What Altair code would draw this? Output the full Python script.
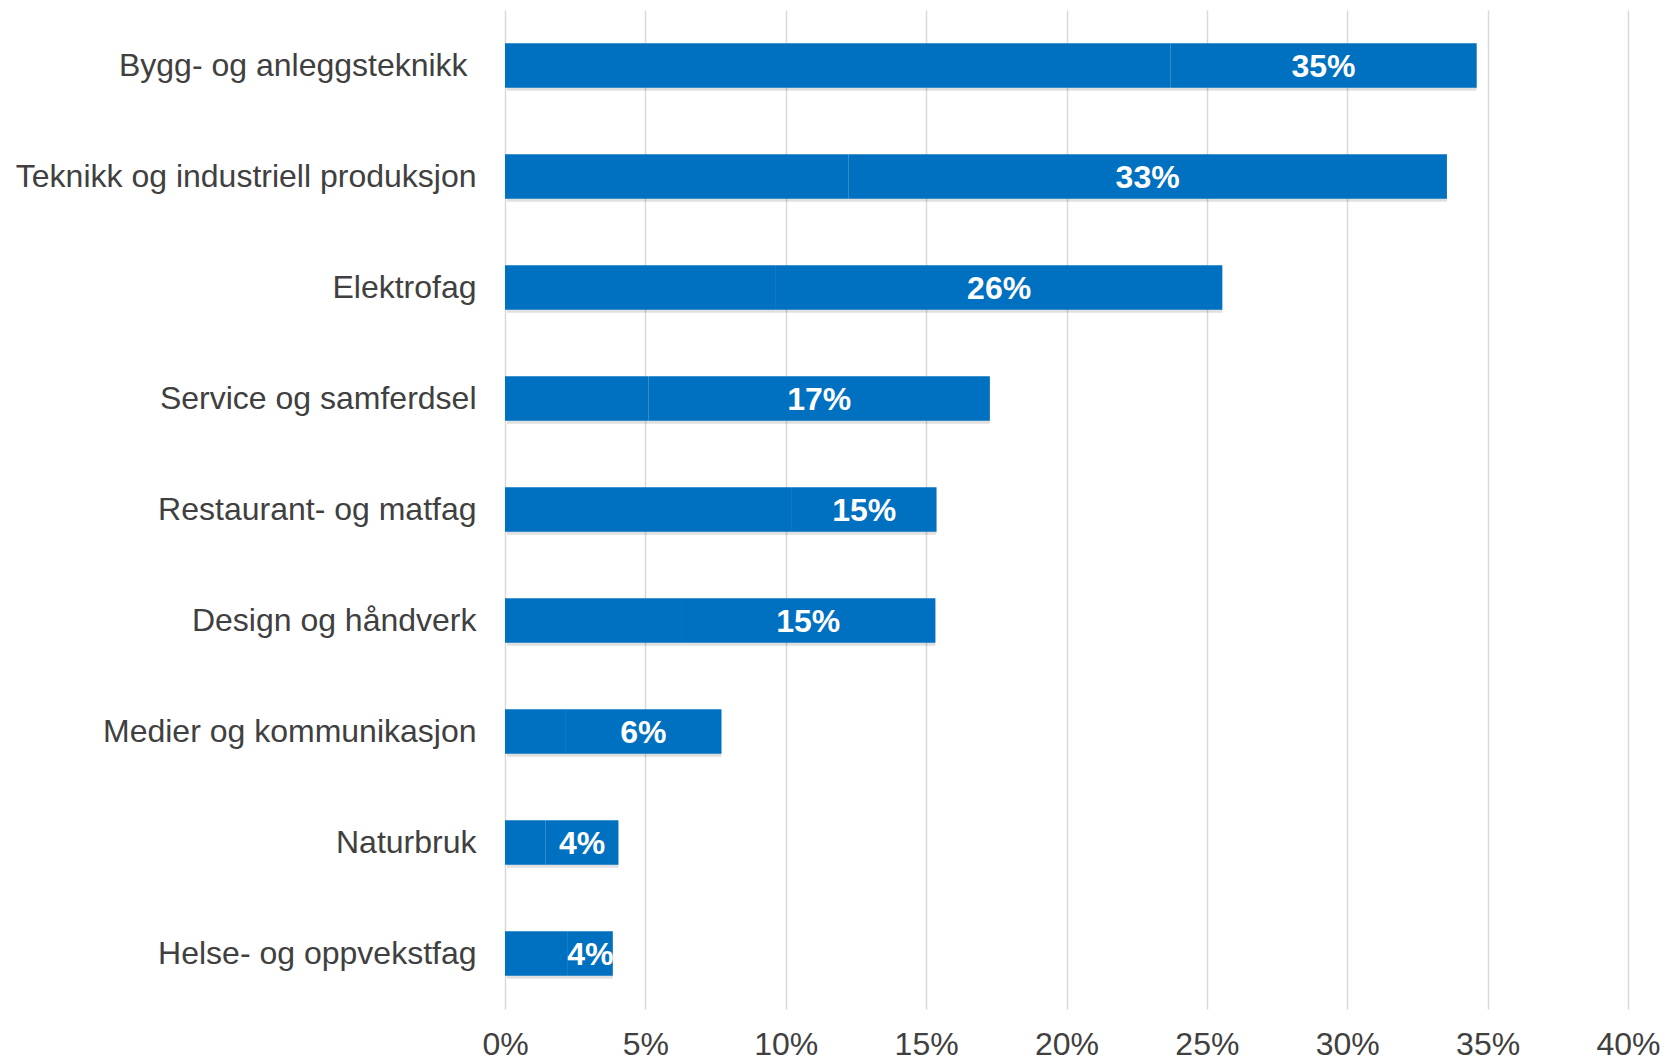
import altair as alt
import pandas as pd

categories = [
    "Bygg- og anleggsteknikk\u00a0\u200b",
    "Teknikk og industriell produksjon",
    "Elektrofag",
    "Service og samferdsel",
    "Restaurant- og matfag",
    "Design og håndverk",
    "Medier og kommunikasjon",
    "Naturbruk",
    "Helse- og oppvekstfag",
]
first_segment = [23.70, 12.23, 9.65, 5.11, 10.22, 6.27, 2.14, 1.45, 2.24]
second_segment = [10.91, 21.32, 15.90, 12.16, 5.15, 9.06, 5.57, 2.59, 1.60]
labels = ["35%", "33%", "26%", "17%", "15%", "15%", "6%", "4%", "4%"]

df = pd.DataFrame({
    "cat": categories,
    "first": [v / 100 for v in first_segment],
    "second": [v / 100 for v in second_segment],
    "label": labels,
})
df["end"] = df["first"] + df["second"]
df["mid"] = df["first"] + df["second"] / 2
df["zero"] = 0.0

FONT = "Liberation Sans"
BLUE = "#0070C0"

y = alt.Y("cat:N", sort=categories, title=None,
          scale=alt.Scale(paddingInner=0.6, paddingOuter=0.3),
          axis=alt.Axis(labelFont=FONT, labelFontSize=32, labelColor="#404040",
                        labelPadding=29, ticks=False, domain=False, labelLimit=700,
                        grid=False))
xscale = alt.Scale(domain=[0, 0.4], nice=False, zero=True)
x = alt.X("zero:Q", scale=xscale, title=None,
          axis=alt.Axis(format=".0%", values=[0, .05, .1, .15, .2, .25, .3, .35, .4],
                        labelFont=FONT, labelFontSize=32, labelColor="#404040",
                        labelPadding=20, ticks=False, domain=False,
                        grid=True, gridColor="#D9D9D9", gridWidth=1.5,
                        labelFlush=False))

base = alt.Chart(df)

shadow = base.mark_bar(color="#000000", opacity=0.12, xOffset=2, yOffset=3).encode(
    y=y, x=x, x2="end:Q")
seg1 = base.mark_bar(color=BLUE).encode(y=y, x=x, x2="first:Q")
seg2 = base.mark_bar(color=BLUE).encode(
    y=y, x=alt.X("first:Q", scale=xscale), x2="end:Q")
text = base.mark_text(font=FONT, fontSize=32, fontWeight="bold", color="white",
                      baseline="middle", align="center", dy=1).encode(
    y=y, x=alt.X("mid:Q", scale=xscale), text="label:N")

chart = alt.layer(shadow, seg1, seg2, text).properties(
    width=1123, height=999,
    background="white",
    autosize=alt.AutoSizeParams(type="none"),
    padding={"left": 497, "top": 2, "right": 40, "bottom": 50},
).configure_view(stroke=None, strokeWidth=0)

chart.save("out.html", embed_options={"renderer": "svg", "actions": False})
